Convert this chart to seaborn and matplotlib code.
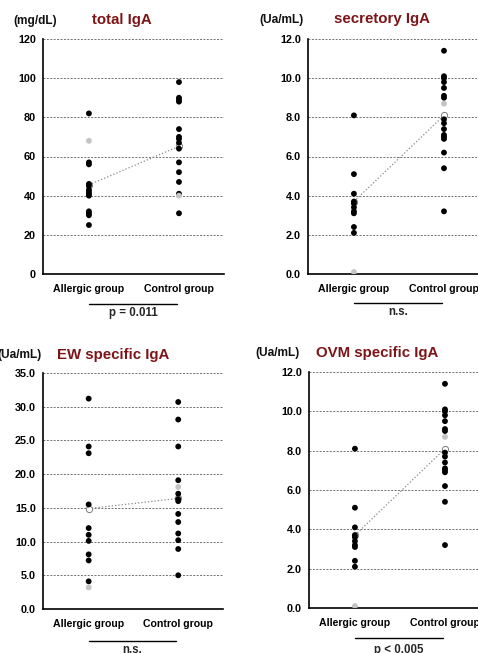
import pandas as pd
import matplotlib.pyplot as plt
import seaborn as sns

sns.set_style("white")
plt.rcParams['font.family'] = ['Liberation Sans', 'DejaVu Sans']
plt.rcParams['font.weight'] = 'bold'

groups = ["Allergic group", "Control group"]

# total IgA (mg/dL)
total_allergic = [82, 57, 56, 46, 45, 43, 42, 41, 40, 32, 31, 30, 25]
total_allergic_gray = [68]
total_control = [98, 90, 89, 88, 74, 70, 69, 67, 64, 57, 52, 47, 41, 31]
total_control_gray = [40]
total_means = [45.5, 65.2]

# secretory IgA (Ua/mL)
sec_allergic = [8.1, 5.1, 4.1, 3.7, 3.6, 3.4, 3.2, 3.1, 2.4, 2.1]
sec_allergic_gray = [0.1]
sec_control = [11.4, 10.1, 10.0, 9.8, 9.5, 9.1, 9.0, 7.9, 7.7, 7.4, 7.1, 7.0, 6.9, 6.2, 5.4, 3.2]
sec_control_gray = [8.7]
sec_means = [3.7, 8.1]

# EW specific IgA (Ua/mL)
ew_allergic = [31.2, 24.1, 23.1, 15.5, 12.0, 11.0, 10.1, 8.1, 7.2, 4.1]
ew_allergic_gray = [3.2]
ew_control = [30.7, 28.1, 24.1, 19.1, 17.1, 16.3, 16.0, 14.1, 12.9, 11.2, 10.2, 8.9, 5.0]
ew_control_gray = [18.1]
ew_means = [14.9, 16.4]

# OVM specific IgA (Ua/mL)
ovm_allergic = [8.1, 5.1, 4.1, 3.7, 3.6, 3.4, 3.2, 3.1, 2.4, 2.1]
ovm_allergic_gray = [0.1]
ovm_control = [11.4, 10.1, 10.0, 9.8, 9.5, 9.1, 9.0, 7.9, 7.7, 7.4, 7.1, 7.0, 6.9, 6.2, 5.4, 3.2]
ovm_control_gray = [8.7]
ovm_means = [3.7, 8.1]

W, H = 478, 653
fig = plt.figure(figsize=(W / 100, H / 100), dpi=100)
title_red = "#7d1518"


def make_df(a, ag, c, cg):
    rows = [(groups[0], v, "black") for v in a] + [(groups[0], v, "gray") for v in ag]
    rows += [(groups[1], v, "black") for v in c] + [(groups[1], v, "gray") for v in cg]
    return pd.DataFrame(rows, columns=["group", "value", "kind"])


def panel(box, df, means, ymax, step, fmt, unit, unit_xy, title, title_xy, stat):
    left, top, right, bottom = box
    ax = fig.add_axes([left / W, 1 - bottom / H, (right - left) / W, (bottom - top) / H])
    sns.pointplot(x=groups, y=means, order=groups, color="#888888", markers="o",
                  linestyles=":", errorbar=None, markersize=4.5, linewidth=0.9,
                  markerfacecolor="white", markeredgecolor="#777777", ax=ax)
    sns.stripplot(data=df, x="group", y="value", hue="kind", order=groups,
                  palette={"black": "black", "gray": "#c4c4c4"}, jitter=False,
                  size=4.2, legend=False, zorder=3, ax=ax)
    ax.set_xlim(-0.51, 1.5)
    ax.set_ylim(0, ymax)
    ticks = [i * step for i in range(int(round(ymax / step)) + 1)]
    ax.set_yticks(ticks)
    ax.set_yticklabels([fmt.format(t) for t in ticks], fontsize=7.8, fontweight="bold")
    ax.set_xticks([0, 1])
    ax.set_xticklabels(groups, fontsize=7.6, fontweight="bold")
    ax.set_xlabel("")
    ax.set_ylabel("")
    ax.yaxis.grid(True, linestyle=(0, (2, 1.5)), color="#6f6f6f", linewidth=0.7)
    ax.set_axisbelow(True)
    for s in ["top", "right"]:
        ax.spines[s].set_visible(False)
    for s in ["left", "bottom"]:
        ax.spines[s].set_linewidth(1.2)
        ax.spines[s].set_color("black")
    ax.tick_params(axis="y", length=3, width=1, pad=2, colors="black")
    ax.tick_params(axis="x", length=0, pad=7, colors="black")

    # significance bar under the groups
    h = bottom - top
    yb = (bottom - stat[1]) / h
    yt = (bottom - stat[2]) / h
    ax.plot([0.0, 0.98], [yb, yb], color="black", linewidth=1.0,
            transform=ax.get_xaxis_transform(), clip_on=False)
    ax.text(0.49, yt, stat[0], transform=ax.get_xaxis_transform(), ha="center",
            va="center", fontsize=8.3, fontweight="bold")

    fig.text(unit_xy[0] / W, 1 - unit_xy[1] / H, unit, ha="center", va="center",
             fontsize=8.6, fontweight="bold", color="#111111")
    fig.text(title_xy[0] / W, 1 - title_xy[1] / H, title, ha="center", va="center",
             fontsize=10.8, fontweight="bold", color=title_red)
    return ax


panel((43, 39, 224, 274), make_df(total_allergic, total_allergic_gray, total_control, total_control_gray),
      total_means, 120, 20, "{:.0f}", "(mg/dL)", (35, 21), "total IgA", (122, 20),
      ("p = 0.011", 304, 313))
panel((308, 39, 489, 274), make_df(sec_allergic, sec_allergic_gray, sec_control, sec_control_gray),
      sec_means, 12, 2, "{:.1f}", "(Ua/mL)", (281, 20), "secretory IgA", (382, 19),
      ("n.s.", 303, 312))
panel((43, 373, 223, 609), make_df(ew_allergic, ew_allergic_gray, ew_control, ew_control_gray),
      ew_means, 35, 5, "{:.1f}", "(Ua/mL)", (20, 355), "EW specific IgA", (113, 355),
      ("n.s.", 641, 650))
panel((309, 372, 490, 608), make_df(ovm_allergic, ovm_allergic_gray, ovm_control, ovm_control_gray),
      ovm_means, 12, 2, "{:.1f}", "(Ua/mL)", (277, 353), "OVM specific IgA", (377, 353),
      ("p < 0.005", 638, 650))

plt.savefig("out.png", dpi=100)
